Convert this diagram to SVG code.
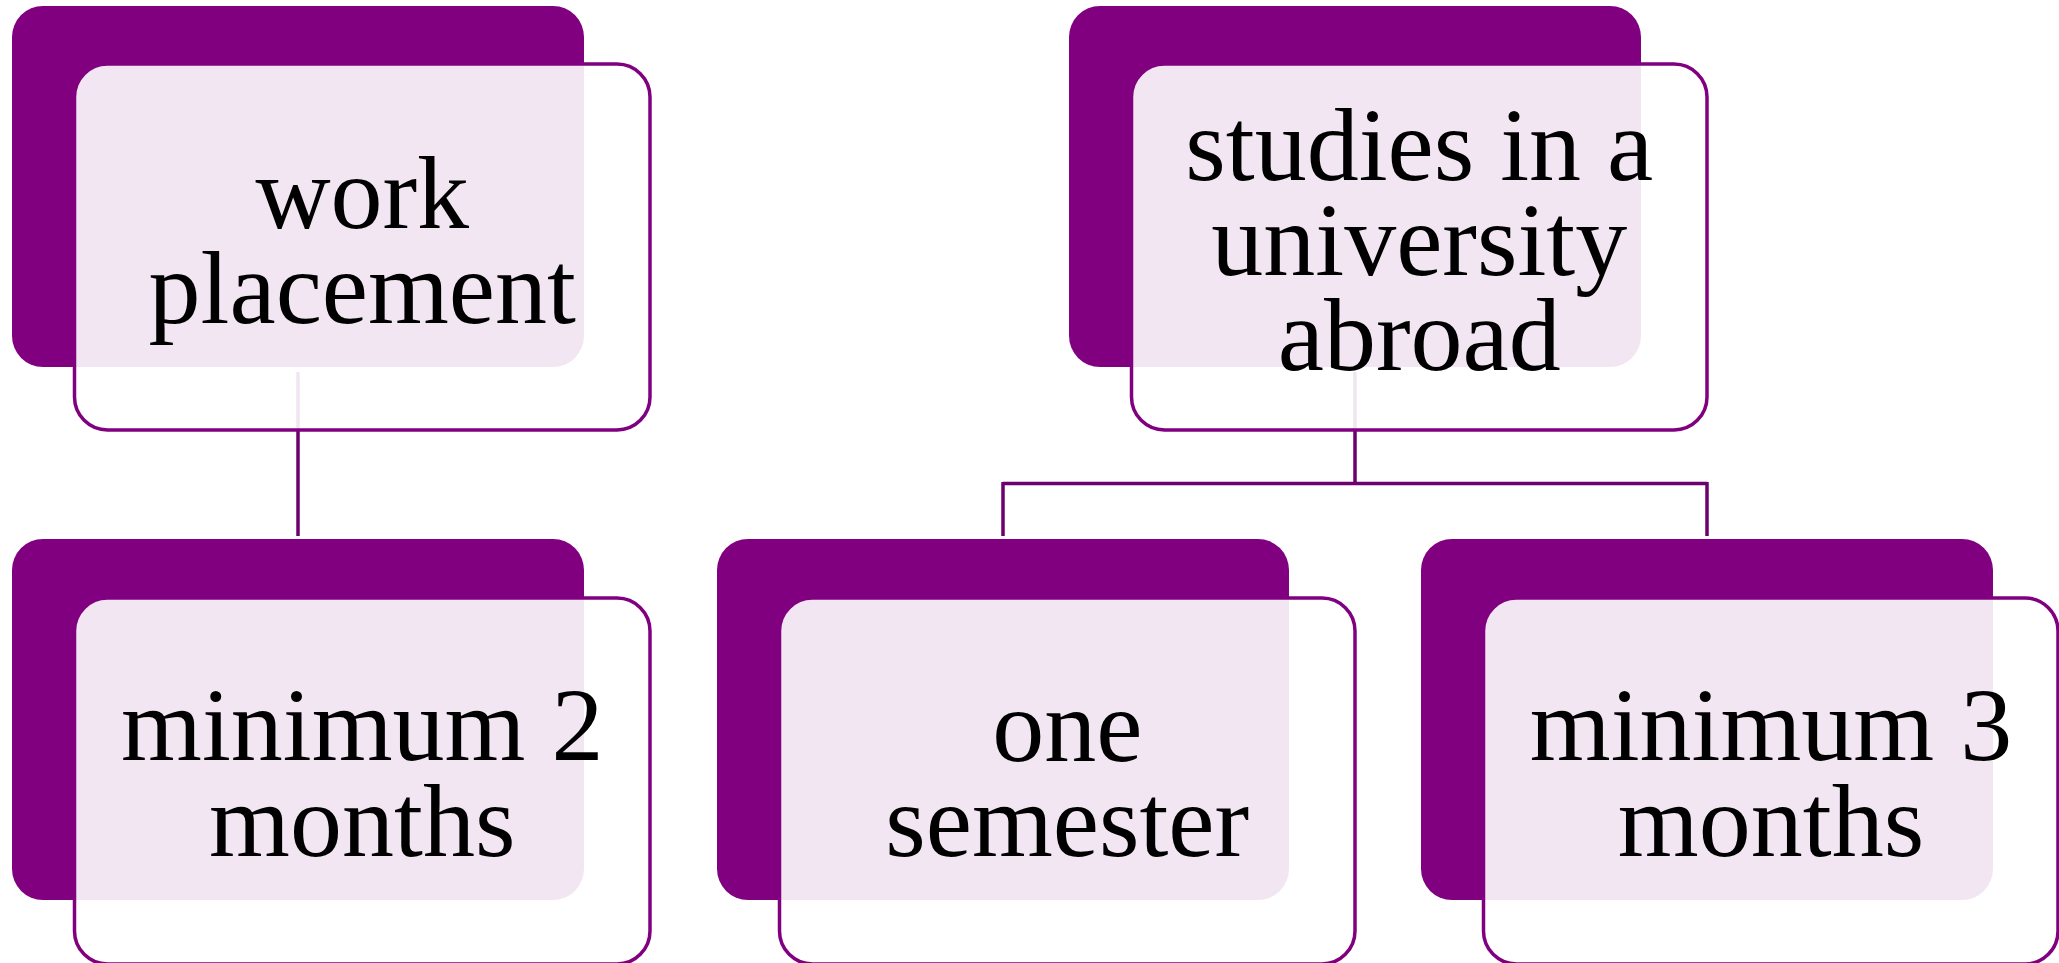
<svg xmlns="http://www.w3.org/2000/svg" width="2059" height="963" viewBox="0 0 2059 963">
<style>
.dark{fill:#800080}
.card{fill:#ffffff;fill-opacity:0.9;stroke:#800080;stroke-width:3.5}
.lbl{font-family:"Liberation Serif","Times New Roman",serif;font-size:104px;fill:#000000;text-anchor:middle}
.conn{fill:none;stroke:#6c006f;stroke-width:3.5}
</style>
<rect width="2059" height="963" fill="#ffffff"/>
<g id="connectors">
<path class="conn" d="M298,372 V536"/>
<path class="conn" d="M1355,372 V483.5 M1003,483.5 H1707 M1003,482 V536 M1707,482 V536"/>
</g>
<g id="node-work-placement">
<rect class="dark" x="12" y="6" width="572" height="361" rx="31" ry="31"/>
<rect class="card" x="74.5" y="64" width="575.5" height="366" rx="33" ry="33"/>
<text class="lbl" x="362.25" y="228">work</text>
<text class="lbl" x="362.25" y="323">placement</text>
</g>
<g id="node-studies-abroad">
<rect class="dark" x="1069" y="6" width="572" height="361" rx="31" ry="31"/>
<rect class="card" x="1131.5" y="64" width="575.5" height="366" rx="33" ry="33"/>
<text class="lbl" x="1419.25" y="180">studies in a</text>
<text class="lbl" x="1419.25" y="275">university</text>
<text class="lbl" x="1419.25" y="370">abroad</text>
</g>
<g id="node-minimum-2-months">
<rect class="dark" x="12" y="539" width="572" height="361" rx="31" ry="31"/>
<rect class="card" x="74.5" y="598" width="575.5" height="366" rx="33" ry="33"/>
<text class="lbl" x="362.25" y="760">minimum 2</text>
<text class="lbl" x="362.25" y="856">months</text>
</g>
<g id="node-one-semester">
<rect class="dark" x="717" y="539" width="572" height="361" rx="31" ry="31"/>
<rect class="card" x="779.5" y="598" width="575.5" height="366" rx="33" ry="33"/>
<text class="lbl" x="1067.25" y="761">one</text>
<text class="lbl" x="1067.25" y="856">semester</text>
</g>
<g id="node-minimum-3-months">
<rect class="dark" x="1421" y="539" width="572" height="361" rx="31" ry="31"/>
<rect class="card" x="1483.5" y="598" width="574.5" height="366" rx="33" ry="33"/>
<text class="lbl" x="1771" y="760">minimum 3</text>
<text class="lbl" x="1771" y="856">months</text>
</g>
</svg>
